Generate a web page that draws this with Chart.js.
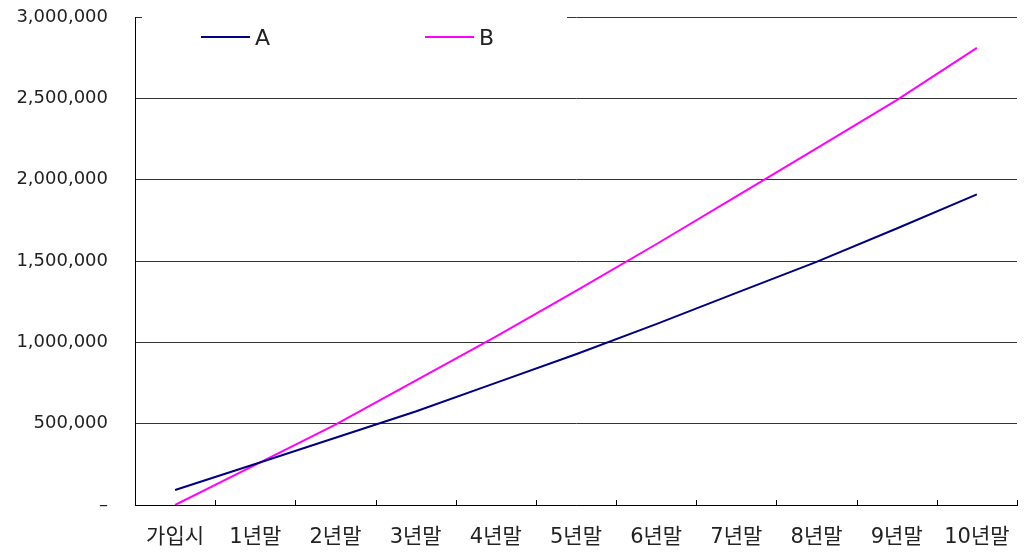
<!DOCTYPE html>
<html>
<head>
<meta charset="utf-8">
<script src="https://cdn.jsdelivr.net/npm/chart.js@4/dist/chart.umd.min.js"></script>
<style>
  body { margin: 0; background: #fff; }
  #wrap { width: 1026px; height: 554px; }
</style>
</head>
<body>
<div id="wrap"><canvas id="grafico"></canvas></div>
<script>
// Datos
const categorias = ['가입시', '1년말', '2년말', '3년말', '4년말', '5년말', '6년말', '7년말', '8년말', '9년말', '10년말'];
const serieA = [92000, 252000, 413000, 575000, 751000, 927000, 1112000, 1304000, 1495000, 1700000, 1910000];
const serieB = [0, 247000, 494000, 764000, 1035000, 1317000, 1603000, 1897000, 2193000, 2489000, 2810000];
const nombres = ['A', 'B'];
const colores = ['#000080', '#ff00ff'];

const fuente = "'DejaVu Sans', 'Noto Sans CJK KR', sans-serif";

// Marcas del eje X hacia dentro, entre categorías
const marcasX = {
    id: 'marcasX',
    afterDraw(chart) {
        const x = chart.scales.x;
        const ctx = chart.ctx;
        const n = chart.data.labels.length;
        const bottom = chart.chartArea.bottom;
        ctx.save();
        ctx.strokeStyle = '#000';
        ctx.lineWidth = 1;
        for (let i = 0; i <= n; i++) {
            let px;
            if (i === 0) px = chart.chartArea.left;
            else if (i === n) px = chart.chartArea.right;
            else px = (x.getPixelForValue(i - 1) + x.getPixelForValue(i)) / 2;
            px = Math.round(px) + 0.5;
            ctx.beginPath();
            ctx.moveTo(px, bottom - 5);
            ctx.lineTo(px, bottom);
            ctx.stroke();
        }
        ctx.restore();
    }
};

// Leyenda dentro del área, con fondo blanco
const leyenda = {
    id: 'leyenda',
    afterDraw(chart) {
        const ctx = chart.ctx;
        const area = chart.chartArea;
        ctx.save();
        ctx.fillStyle = '#fff';
        ctx.fillRect(area.left + 7, area.top - 6, 425, 40);
        chart.data.datasets.forEach((ds, i) => {
            const x0 = area.left + 66 + i * 224;
            const y0 = area.top + 20;
            ctx.strokeStyle = ds.borderColor;
            ctx.lineWidth = 2;
            ctx.beginPath();
            ctx.moveTo(x0, y0);
            ctx.lineTo(x0 + 49, y0);
            ctx.stroke();
            ctx.fillStyle = '#222';
            ctx.font = '22px ' + fuente;
            ctx.textBaseline = 'middle';
            ctx.fillText(ds.label, x0 + 54, y0 + 2);
        });
        ctx.restore();
    }
};

new Chart(document.getElementById('grafico'), {
    type: 'line',
    data: {
        labels: categorias,
        datasets: [
            { label: nombres[0], data: serieA, borderColor: colores[0], borderWidth: 2, pointRadius: 0, fill: false },
            { label: nombres[1], data: serieB, borderColor: colores[1], borderWidth: 2, pointRadius: 0, fill: false }
        ]
    },
    options: {
        responsive: true,
        maintainAspectRatio: false,
        animation: false,
        layout: { padding: { left: 0, top: 17, right: 9, bottom: 0 } },
        plugins: {
            legend: { display: false },
            tooltip: { enabled: false }
        },
        scales: {
            x: {
                offset: true,
                grid: { display: false, offset: true },
                border: { display: true, color: '#000', width: 1 },
                ticks: { color: '#222', font: { family: fuente, size: 21 }, padding: 12, maxRotation: 0, autoSkip: false },
                afterFit: s => { s.height = 49; }
            },
            y: {
                min: 0,
                max: 3000000,
                grid: { color: '#333', lineWidth: 1, drawTicks: true, tickLength: 27, tickColor: 'rgba(0,0,0,0)' },
                border: { display: true, color: '#000', width: 1 },
                ticks: {
                    stepSize: 500000,
                    color: '#222',
                    padding: 0,
                    font: { family: fuente, size: 18 },
                    callback: v => v === 0 ? '–' : v.toLocaleString('en-US')
                },
                afterFit: s => { s.width = 135; }
            }
        }
    },
    plugins: [marcasX, leyenda]
});
</script>
</body>
</html>
